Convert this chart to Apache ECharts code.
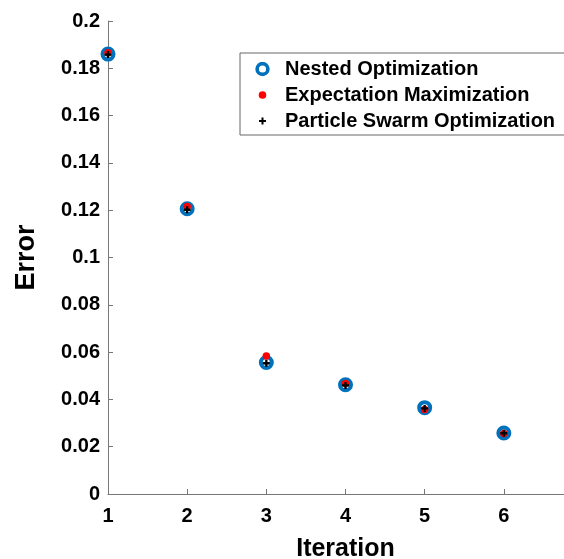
<!DOCTYPE html>
<html>
<head>
<meta charset="utf-8">
<script src="https://cdn.jsdelivr.net/npm/echarts@6/dist/echarts.min.js"></script>
<style>
  html, body { margin: 0; padding: 0; background: #fff; }
  #chart { width: 564px; height: 559px; }
</style>
</head>
<body>
<div id="chart"></div>
<script>
// Error per iteration for the three estimation methods
const iterations = [1, 2, 3, 4, 5, 6];
const nestedOpt = [0.186, 0.1206, 0.0556, 0.0462, 0.0365, 0.0258];
const expectationMax = [0.1866, 0.1216, 0.0584, 0.0467, 0.0357, 0.0256];
const particleSwarm = [0.1858, 0.1202, 0.0553, 0.0459, 0.0362, 0.0257];
const yTicks = [0, 0.02, 0.04, 0.06, 0.08, 0.1, 0.12, 0.14, 0.16, 0.18, 0.2];

const seriesNames = ['Nested Optimization', 'Expectation Maximization', 'Particle Swarm Optimization'];
const BLUE = '#0072BD';
const RED = '#FF0000';
const FONT = 'Liberation Sans, Arial, sans-serif';

const pts = vals => iterations.map((x, i) => [x, vals[i]]);

const plusPath = 'path://M2,0 H4 V2 H6 V4 H4 V6 H2 V4 H0 V2 H2 Z';

// legend icons as small SVGs so each glyph keeps its own size
const svgIcon = body => 'image://data:image/svg+xml;charset=utf-8,' + encodeURIComponent(
  '<svg xmlns="http://www.w3.org/2000/svg" width="15" height="15" viewBox="0 0 15 15">' + body + '</svg>');
const ringIcon = svgIcon('<circle cx="7.5" cy="7.5" r="5.4" fill="#fff" stroke="' + BLUE + '" stroke-width="3.6"/>');
const dotIcon = svgIcon('<circle cx="7.5" cy="7.5" r="3.8" fill="' + RED + '"/>');
const plusIcon = svgIcon('<path d="M6.5,4 H8.5 V6.5 H11 V8.5 H8.5 V11 H6.5 V8.5 H4 V6.5 H6.5 Z" fill="#000"/>');

const chart = echarts.init(document.getElementById('chart'), null, { renderer: 'canvas' });

chart.setOption({
  animation: false,
  backgroundColor: '#fff',
  // the plot runs past the right edge of the canvas
  grid: { left: 108, top: 21, width: 475, height: 473, containLabel: false, outerBoundsMode: 'none' },
  xAxis: {
    type: 'value',
    min: 1, max: 7, interval: 1,
    name: 'Iteration',
    nameLocation: 'middle',
    nameGap: 43,
    nameTextStyle: { fontFamily: FONT, fontWeight: 'bold', fontSize: 25, color: '#000' },
    axisLine: { show: true, lineStyle: { color: '#777', width: 1 } },
    axisTick: { show: true, inside: true, length: 5, lineStyle: { color: '#777' } },
    axisLabel: {
      fontFamily: FONT, fontWeight: 'bold', fontSize: 20, color: '#000', margin: 12,
      formatter: v => (iterations.includes(v) ? String(v) : '')
    },
    splitLine: { show: false }
  },
  yAxis: {
    type: 'value',
    min: yTicks[0], max: yTicks[yTicks.length - 1], interval: 0.02,
    name: 'Error',
    nameLocation: 'middle',
    nameRotate: 90,
    nameGap: 68,
    nameTextStyle: { fontFamily: FONT, fontWeight: 'bold', fontSize: 27, color: '#000' },
    axisLine: { show: true, lineStyle: { color: '#777', width: 1 } },
    axisTick: { show: true, inside: true, length: 5, lineStyle: { color: '#777' } },
    axisLabel: {
      fontFamily: FONT, fontWeight: 'bold', fontSize: 20, color: '#000', margin: 8,
      formatter: v => String(parseFloat(v.toFixed(2)))
    },
    splitLine: { show: false }
  },
  legend: {
    orient: 'vertical',
    left: 240, top: 53,
    padding: [6, 40, 4, 15],
    itemWidth: 15, itemHeight: 15, itemGap: 6,
    borderColor: '#666', borderWidth: 1,
    backgroundColor: '#fff',
    textStyle: { fontFamily: FONT, fontWeight: 'bold', fontSize: 20, color: '#000', lineHeight: 20, padding: [0, 0, 0, 10] },
    data: [
      { name: seriesNames[0], icon: ringIcon },
      { name: seriesNames[1], icon: dotIcon },
      { name: seriesNames[2], icon: plusIcon }
    ]
  },
  series: [
    {
      name: seriesNames[0], type: 'scatter', data: pts(nestedOpt),
      symbol: 'circle', symbolSize: 11, z: 2,
      itemStyle: { color: '#fff', borderColor: BLUE, borderWidth: 4, opacity: 1 }
    },
    {
      name: seriesNames[1], type: 'scatter', data: pts(expectationMax),
      symbol: 'circle', symbolSize: 7.5, z: 3,
      itemStyle: { color: RED, opacity: 1 }
    },
    {
      name: seriesNames[2], type: 'scatter', data: pts(particleSwarm),
      symbol: plusPath, symbolSize: 7, z: 4,
      itemStyle: { color: '#000', opacity: 1 }
    }
  ]
});
</script>
</body>
</html>
